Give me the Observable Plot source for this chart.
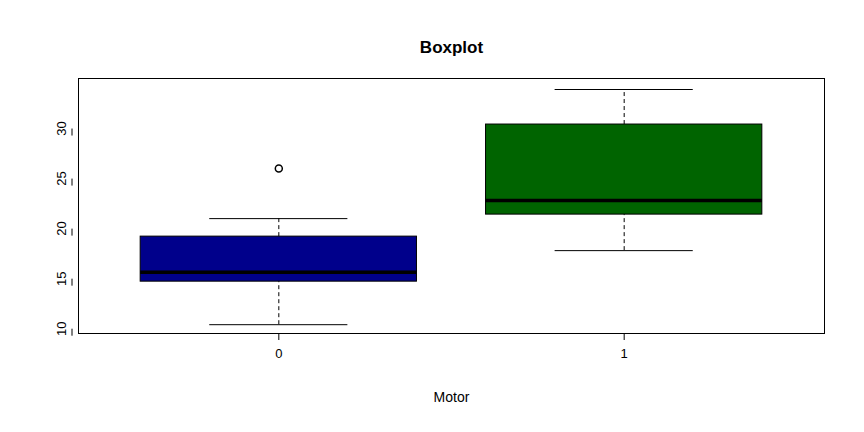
<!DOCTYPE html><html><head><meta charset="utf-8">
<script src="https://cdn.jsdelivr.net/npm/d3@7"></script>
<script src="https://cdn.jsdelivr.net/npm/@observablehq/plot@0.6"></script>
<style>body{margin:0;background:#fff;font-family:"Liberation Sans",Arial,sans-serif}</style></head><body>
<script>
const groups=["0","1"];
const pos=[1,2];
const lo=[10.4,17.8], q1=[14.7,21.4], med=[15.65,22.8], q3=[19.2,30.4], hi=[21.0,33.9];
const outX=[1], outY=[26.0];
const fills=["#00008B","#006400"];
const yTicks=[10,15,20,25,30];
const d=pos.map((p,i)=>({p,lo:lo[i],q1:q1[i],med:med[i],q3:q3[i],hi:hi[i],f:fills[i]}));
const outs=outX.map((x,i)=>({x,y:outY[i]}));
const chart=Plot.plot({width:864,height:432,marginTop:78,marginLeft:78,marginRight:40,marginBottom:99,
 style:{fontFamily:"Liberation Sans, Arial, sans-serif",fontSize:"13px"},
 x:{domain:[0.42,2.58],axis:null},
 y:{domain:[9.52,35.0],axis:null},
 marks:[
  Plot.frame({stroke:"black"}),
  Plot.ruleX(d,{x:"p",y1:"q3",y2:"hi",strokeDasharray:"4,3"}),
  Plot.ruleX(d,{x:"p",y1:"lo",y2:"q1",strokeDasharray:"4,3"}),
  Plot.ruleY(d,{y:"hi",x1:d=>d.p-0.2,x2:d=>d.p+0.2}),
  Plot.ruleY(d,{y:"lo",x1:d=>d.p-0.2,x2:d=>d.p+0.2}),
  Plot.rect(d,{x1:d=>d.p-0.4,x2:d=>d.p+0.4,y1:"q1",y2:"q3",fill:"f",stroke:"black"}),
  Plot.ruleY(d,{y:"med",x1:d=>d.p-0.4,x2:d=>d.p+0.4,strokeWidth:3.5}),
  Plot.dot(outs,{x:"x",y:"y",r:3.5,stroke:"black",fill:"none"}),
  Plot.axisY(yTicks,{anchor:"left",tickSize:7,tickPadding:4,rotate:-90,textAnchor:"middle",dx:-6,fontSize:13,label:null}),
  Plot.axisX(pos,{anchor:"bottom",tickSize:7,tickPadding:8,tickFormat:(v,i)=>groups[i],fontSize:13,label:null}),
  Plot.text(["Motor"],{frameAnchor:"bottom",dy:68,fontSize:14}),
  Plot.text(["Boxplot"],{frameAnchor:"top",dy:-38,fontSize:17,fontWeight:"bold"})
 ]});
document.body.appendChild(chart);
</script></body></html>
